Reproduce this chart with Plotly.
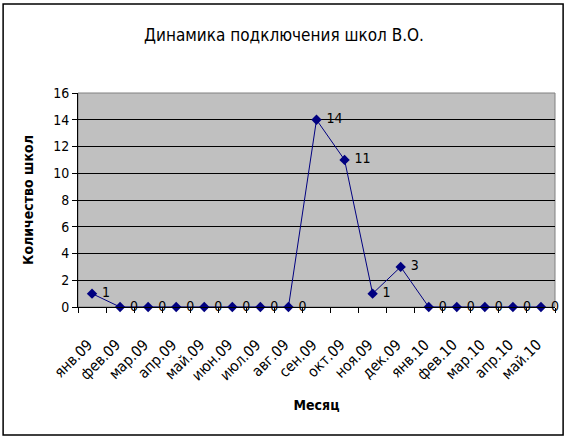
import plotly.graph_objects as go

months = ["янв.09", "фев.09", "мар.09", "апр.09", "май.09", "июн.09", "июл.09", "авг.09",
          "сен.09", "окт.09", "ноя.09", "дек.09", "янв.10", "фев.10", "мар.10", "апр.10", "май.10"]
schools = [1, 0, 0, 0, 0, 0, 0, 0, 14, 11, 1, 3, 0, 0, 0, 0, 0]
y_ticks = [0, 2, 4, 6, 8, 10, 12, 14, 16]

FONT = "DejaVu Sans Condensed, Liberation Sans Narrow, Arial Narrow, sans-serif"
NAVY = "#000080"

fig = go.Figure()
fig.add_trace(
    go.Scatter(
        x=months,
        y=schools,
        mode="lines+markers+text",
        text=[" " + str(v) for v in schools],
        textposition="middle right",
        textfont=dict(family=FONT, size=14, color="black"),
        line=dict(color=NAVY, width=1),
        marker=dict(symbol="diamond", size=8, color=NAVY),
        cliponaxis=False,
        showlegend=False,
    )
)

# plot area frame
fig.add_shape(type="rect", xref="paper", yref="paper", x0=0, x1=1, y0=0, y1=1,
              line=dict(color="#808080", width=1), layer="below")
# outer chart border
fig.add_shape(type="rect", xref="paper", yref="paper", x0=-0.157, x1=1.017, y0=-0.598, y1=1.416,
              line=dict(color="black", width=1.5), layer="below")

fig.update_layout(
    width=568,
    height=440,
    margin=dict(l=78, r=13, t=93, b=133),
    paper_bgcolor="white",
    plot_bgcolor="#C0C0C0",
    font=dict(family=FONT, size=14, color="black"),
    title=dict(text="Динамика подключения школ В.О.", x=0.5, xanchor="center",
               y=0.92, yanchor="middle", font=dict(family=FONT, size=17)),
)
fig.update_xaxes(
    type="category",
    range=[-0.5, len(months) - 0.5],
    tickson="boundaries",
    ticks="outside",
    ticklen=5,
    tickcolor="black",
    tickangle=-45,
    ticklabelstandoff=22,
    ticklabelshift=-4,
    showline=True,
    linecolor="black",
    linewidth=1,
    showgrid=False,
    automargin=False,
    tickfont=dict(family=FONT, size=15),
    title=dict(text="<b>Месяц</b>", font=dict(family=FONT, size=14), standoff=16),
)
fig.update_yaxes(
    range=[0, 16],
    tickvals=y_ticks,
    ticks="outside",
    ticklen=5,
    tickcolor="black",
    showline=True,
    linecolor="black",
    linewidth=1,
    showgrid=True,
    gridcolor="black",
    gridwidth=1,
    zeroline=False,
    automargin=False,
    tickfont=dict(family=FONT, size=14),
    title=dict(text="<b>Количество школ</b>", font=dict(family=FONT, size=14), standoff=16),
)

fig.write_html("out.html", config={"displayModeBar": False},
               post_script="document.body.style.margin='0';")
